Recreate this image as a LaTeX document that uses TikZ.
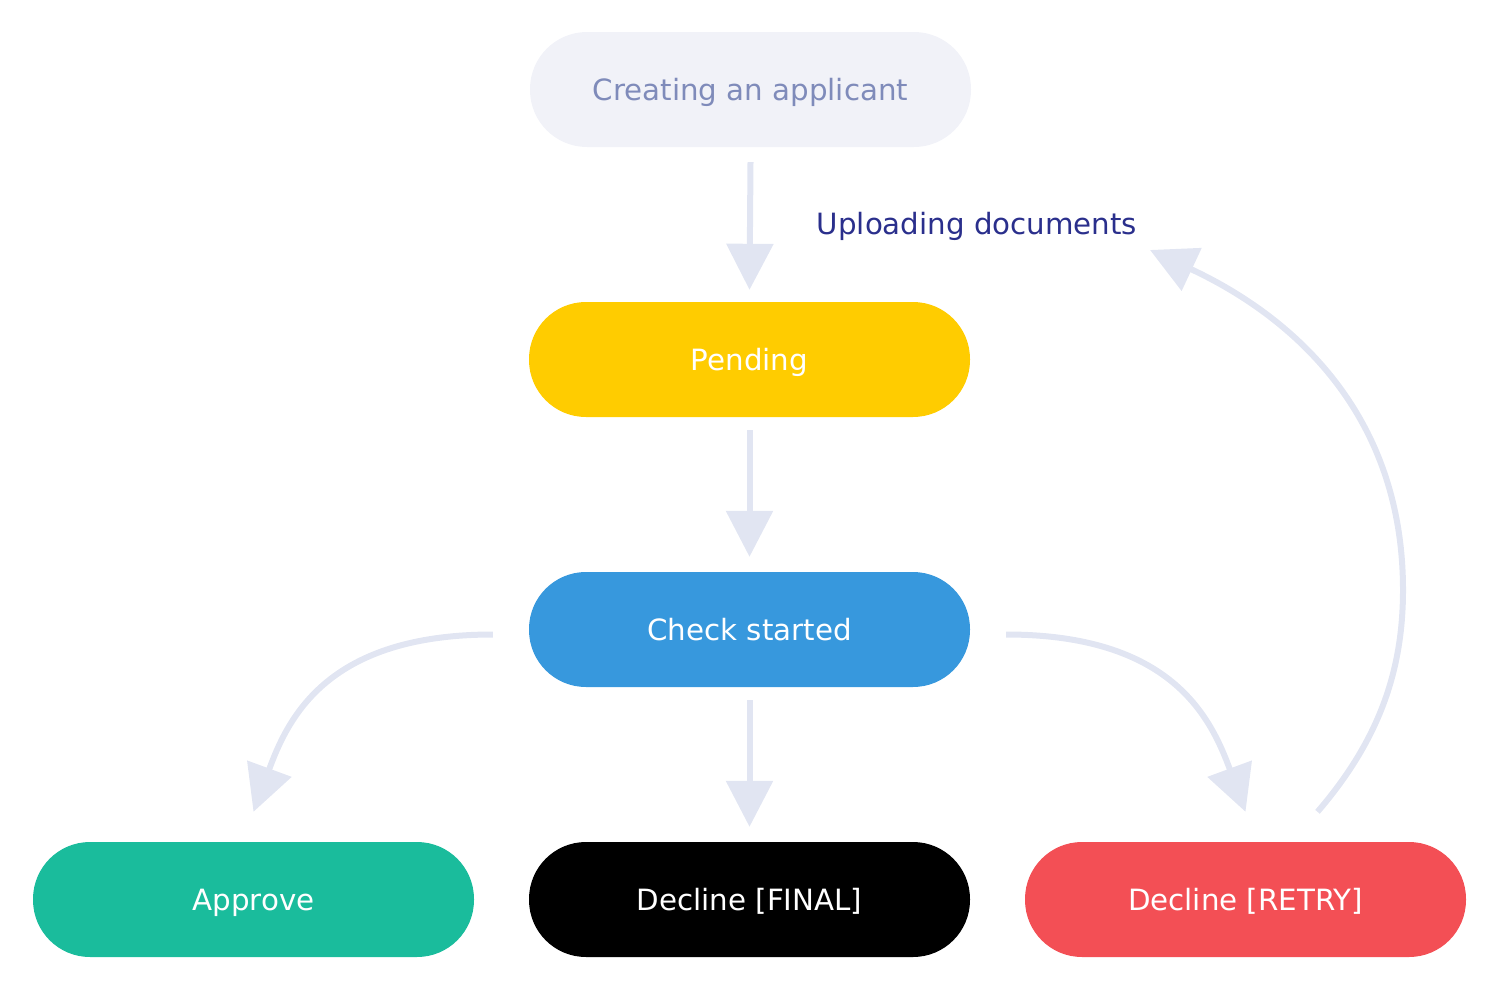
\documentclass[tikz,border=0pt]{standalone}
\usepackage{fontspec}
\setmainfont{DejaVu Sans}
\usetikzlibrary{arrows.meta}
\definecolor{arrc}{HTML}{E1E5F2}
\definecolor{createfill}{HTML}{F1F2F8}
\definecolor{createtext}{HTML}{7F8BBA}
\definecolor{pendfill}{HTML}{FFCC00}
\definecolor{checkfill}{HTML}{3798DD}
\definecolor{approvefill}{HTML}{1ABC9C}
\definecolor{retryfill}{HTML}{F34F55}
\definecolor{labeltext}{HTML}{2A2F8C}
\tikzset{
  state/.style={rectangle, rounded corners=57pt, minimum width=441pt, minimum height=115pt,
    inner sep=0pt, font=\fontsize{29.3}{34}\selectfont, text=white, text depth=0pt},
  arr/.style={draw=arrc, line width=6pt, -{Triangle[width=46pt,length=46pt]}}
}
\begin{document}
\begin{tikzpicture}[x=1pt,y=-1pt]
\useasboundingbox (0,0) rectangle (1494,996);
\node[state, fill=createfill, text=createtext] (create) at (750.5,89.5) {Creating an applicant};
\node[state, fill=pendfill] (pend) at (749.5,359.5) {Pending};
\node[state, fill=checkfill] (check) at (749.5,629.5) {Check started};
\node[state, fill=approvefill] (approve) at (253.5,899.5) {Approve};
\node[state, fill=black] (final) at (749.5,899.5) {Decline [FINAL]};
\node[state, fill=retryfill] (retry) at (1245.5,899.5) {Decline [RETRY]};
\node[font=\fontsize{29.3}{34}\selectfont, text=labeltext, text depth=0pt] (upload) at (977,223) {Uploading documents};
\coordinate (uptip) at (1150,250);
\draw[arr] ([yshift=-15pt]create.south) -- ([yshift=12pt]pend.north);
\draw[arr] ([yshift=-13pt]pend.south) -- ([yshift=15pt]check.north);
\draw[arr] ([yshift=-13pt]check.south) -- ([yshift=15pt]final.north);
\draw[arr] ([xshift=-36pt,yshift=-5pt]check.west) .. controls +(-165,0) and +(35,-95) .. ([yshift=30pt]approve.north);
\draw[arr] ([xshift=36pt,yshift=-5pt]check.east) .. controls +(165,0) and +(-35,-95) .. ([yshift=30pt]retry.north);
\draw[arr] ([xshift=72pt,yshift=30pt]retry.north) .. controls +(62,-72) and (1403,670) .. (1403,590) .. controls (1403,420) and (1300,320) .. (uptip);
\end{tikzpicture}
\end{document}
